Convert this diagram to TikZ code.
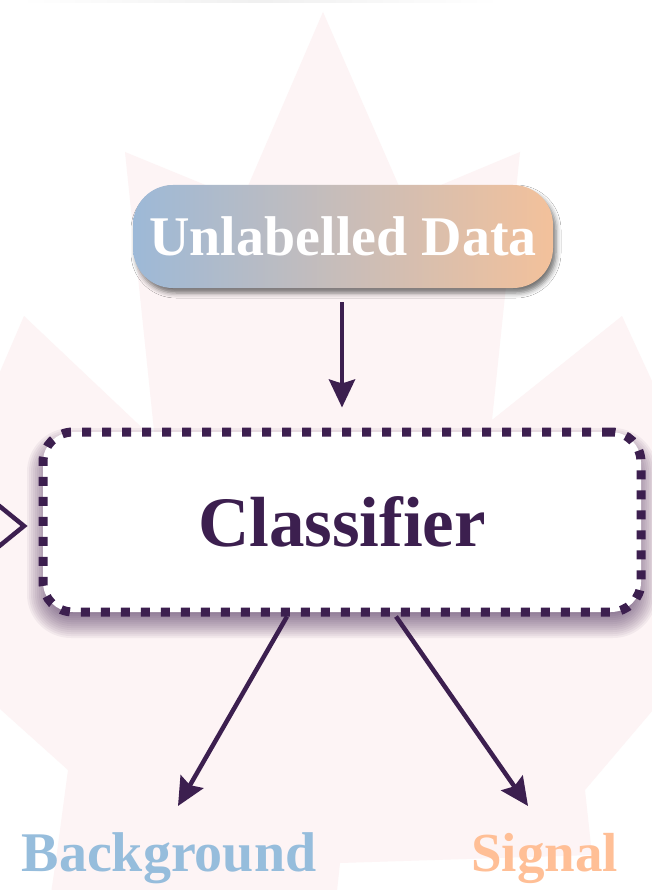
\documentclass[tikz,border=0pt]{standalone}
\usepackage{fontspec}
\setmainfont{Liberation Serif}
\usetikzlibrary{arrows.meta,shadows.blur,calc}

\definecolor{ink}{RGB}{60,31,79}
\definecolor{bgblue}{RGB}{150,189,220}
\definecolor{sigorange}{RGB}{255,191,150}
\definecolor{gradleft}{RGB}{157,185,215}
\definecolor{gradright}{RGB}{243,193,155}
\definecolor{leafpink}{RGB}{253,244,245}

\tikzset{
  flow/.style={draw=ink, line width=4.5pt,
    -{Stealth[length=28pt,width=26pt,inset=4pt]}},
  datanode/.style={rounded corners=40pt, minimum width=420pt, minimum height=103pt,
    inner sep=0pt, left color=gradleft, right color=gradright, draw=none,
    text=white, font=\bfseries\fontsize{56}{60}\selectfont,
    blur shadow={shadow xshift=3pt, shadow yshift=-5pt, shadow blur radius=5pt,
      shadow opacity=55}},
  classbox/.style={rounded corners=30pt, minimum width=598pt, minimum height=180pt,
    inner sep=0pt, fill=white, draw=ink, line width=9pt,
    dash pattern=on 9pt off 11pt,
    text=ink, font=\bfseries\fontsize{71}{76}\selectfont},
  softshade/.style={fill=ink, fill opacity=0.055, draw=none},
  outlabel/.style={anchor=base, font=\bfseries\fontsize{56}{60}\selectfont}
}

\begin{document}
\begin{tikzpicture}[x=1pt,y=-1pt]
  \useasboundingbox (0,0) rectangle (651,890);
  \fill[white] (0,0) rectangle (651,890);

  % faint maple leaf behind everything
  \fill[leafpink] (323,12) -- (405,200) -- (520,152) -- (492,420) -- (622,316)
    -- (670,420) -- (670,690) -- (585,790) -- (592,855) -- (340,863)
    -- (336,900) -- (50,900) -- (56,860) -- (68,770) -- (-10,700)
    -- (-10,395) -- (24,316) -- (155,440) -- (125,152) -- (242,200) -- cycle;

  % faint band along the top edge
  \shade[left color=white, right color=white, middle color=black!6]
    (20,0) rectangle (500,3);

  % soft purple shadow under the classifier box
  \foreach \e in {14,12,...,-14} {
    \pgfmathsetmacro{\rc}{30+\e}
    \fill[softshade, rounded corners=\rc pt]
      (41-\e,442-\e) rectangle (643+\e,624+\e);
  }

  % nodes
  \node[datanode] (ud) at (343,236.5) {Unlabelled Data};
  \node[classbox] (cls) at (342,522) {Classifier};

  \node[outlabel, text=bgblue] (bg) at (169,871) {Background};
  \node[outlabel, text=sigorange, font=\bfseries\fontsize{55}{60}\selectfont]
    (sig) at (544.5,871) {Signal};

  \coordinate (bgtip) at (178,806);
  \coordinate (sigtip) at (528,806);

  % connectors
  \draw[flow, shorten <=14pt, shorten >=20pt] (ud.south -| cls.north) -- (cls.north);
  \draw[flow] ([xshift=-55pt]cls.south) -- (bgtip);
  \draw[flow] ([xshift=54pt]cls.south) -- (sigtip);

  % head of an incoming connector at the left edge
  \coordinate (chevA) at (-8,500);
  \coordinate (chevtip) at (24,526);
  \coordinate (chevB) at (-8,552);
  \draw[ink, line width=4.5pt, line join=miter] (chevA) -- (chevtip) -- (chevB);
\end{tikzpicture}
\end{document}
